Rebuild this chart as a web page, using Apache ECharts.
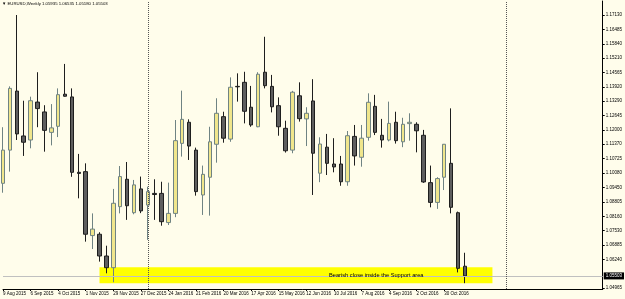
<!DOCTYPE html>
<html><head><meta charset="utf-8">
<script src="https://cdn.jsdelivr.net/npm/echarts@6/dist/echarts.min.js"></script>
<style>html,body{margin:0;padding:0;background:#FFFDEB}#c{width:625px;height:299px}</style>
</head><body><div id="c"></div>
<script>
const weeks = [
'9 Aug 2015','16 Aug 2015','23 Aug 2015','30 Aug 2015',
'6 Sep 2015','13 Sep 2015','20 Sep 2015','27 Sep 2015',
'4 Oct 2015','11 Oct 2015','18 Oct 2015','25 Oct 2015',
'1 Nov 2015','8 Nov 2015','15 Nov 2015','22 Nov 2015','29 Nov 2015',
'6 Dec 2015','13 Dec 2015','20 Dec 2015','27 Dec 2015',
'3 Jan 2016','10 Jan 2016','17 Jan 2016','24 Jan 2016','31 Jan 2016',
'7 Feb 2016','14 Feb 2016','21 Feb 2016','28 Feb 2016',
'6 Mar 2016','13 Mar 2016','20 Mar 2016','27 Mar 2016',
'3 Apr 2016','10 Apr 2016','17 Apr 2016','24 Apr 2016',
'1 May 2016','8 May 2016','15 May 2016','22 May 2016','29 May 2016',
'5 Jun 2016','12 Jun 2016','19 Jun 2016','26 Jun 2016',
'3 Jul 2016','10 Jul 2016','17 Jul 2016','24 Jul 2016','31 Jul 2016',
'7 Aug 2016','14 Aug 2016','21 Aug 2016','28 Aug 2016',
'4 Sep 2016','11 Sep 2016','18 Sep 2016','25 Sep 2016',
'2 Oct 2016','9 Oct 2016','16 Oct 2016','23 Oct 2016','30 Oct 2016',
'6 Nov 2016','13 Nov 2016','20 Nov 2016',
'27 Nov 2016','4 Dec 2016','11 Dec 2016','18 Dec 2016','25 Dec 2016',
'1 Jan 2017','8 Jan 2017','15 Jan 2017','22 Jan 2017','29 Jan 2017',
'5 Feb 2017','12 Feb 2017','19 Feb 2017','26 Feb 2017',
'5 Mar 2017','12 Mar 2017','19 Mar 2017','26 Mar 2017',
'2 Apr 2017','9 Apr 2017'
];
const opens = [
1.0963,1.1111,1.1374,1.1174,1.1156,1.1325,1.1281,1.1190,1.1217,1.1360,
1.1348,1.1012,1.1015,1.0730,1.0736,1.0639,1.0587,1.0859,1.0981,1.0832,
1.0938,1.0866,1.0918,1.0918,1.0788,1.0829,1.1141,1.1235,1.1111,1.0911,
1.0990,1.1137,1.1260,1.1160,1.1395,1.1413,1.1302,1.1215,1.1458,1.1395,
1.1309,1.1208,1.1111,1.1353,1.1250,1.1330,1.1008,1.1124,1.1049,1.1049,
1.0970,1.1172,1.1079,1.1168,1.1306,1.1177,1.1156,1.1235,1.1148,1.1229,
1.1226,1.1177,1.0966,1.0878,1.0990,1.1052,1.0832,1.05935];
const closes = [
1.1111,1.1386,1.1183,1.1146,1.1331,1.1296,1.1199,1.1210,1.1358,1.1351,
1.1012,1.1007,1.0736,1.0759,1.0639,1.0587,1.0874,1.0993,1.0863,1.0956,
1.0840,1.0926,1.0913,1.0792,1.0829,1.1153,1.1248,1.1129,1.0926,1.1003,
1.1148,1.1275,1.1164,1.1391,1.1393,1.1284,1.1223,1.1449,1.1398,1.1304,
1.1215,1.1108,1.1369,1.1251,1.1275,1.1097,1.1138,1.1052,1.1036,1.0970,
1.1175,1.1085,1.1164,1.1324,1.1190,1.1156,1.1230,1.1153,1.1226,1.1235,
1.1197,1.0969,1.0878,1.0984,1.1137,1.0856,1.0584,1.05503];
const lows = [
1.0921,1.1015,1.1156,1.1085,1.1119,1.1213,1.1104,1.1132,1.1169,1.1349,
1.0992,1.0896,1.0703,1.0670,1.0614,1.0562,1.0522,1.0829,1.0800,1.0825,
1.0830,1.0711,1.0800,1.0774,1.0777,1.0812,1.1082,1.1067,1.0908,1.0822,
1.0819,1.1055,1.1144,1.1148,1.1327,1.1230,1.1215,1.1213,1.1386,1.1279,
1.1175,1.1100,1.1097,1.1238,1.1129,1.0911,1.0968,1.1000,1.1012,1.0952,
1.0952,1.1042,1.1037,1.1153,1.1178,1.1122,1.1150,1.1140,1.1124,1.1153,
1.1101,1.0965,1.0856,1.0849,1.0933,1.0829,1.0566,1.05180];
const highs = [
1.1213,1.1395,1.1713,1.1331,1.1349,1.1458,1.1311,1.1316,1.1386,1.1495,
1.1386,1.1094,1.1052,1.0829,1.0745,1.0685,1.0938,1.1040,1.1058,1.0978,
1.0993,1.0948,1.0981,1.0970,1.0966,1.1245,1.1376,1.1248,1.1122,1.1042,
1.1215,1.1342,1.1282,1.1435,1.1453,1.1460,1.1397,1.1458,1.1616,1.1446,
1.1346,1.1242,1.1375,1.1413,1.1302,1.1427,1.1168,1.1183,1.1164,1.1085,
1.1196,1.1223,1.1223,1.1364,1.1357,1.1250,1.1327,1.1282,1.1255,1.1275,
1.1235,1.1201,1.1042,1.0990,1.1138,1.1297,1.0837,1.06535];
const priceTicks = [1.17130,1.16485,1.15840,1.15210,1.14565,1.13920,1.13290,1.12645,1.12000,1.11370,
1.10725,1.10080,1.09450,1.08805,1.08160,1.07530,1.06885,1.06240,1.04965];
const lastPrice = 1.05503;
const headerText = '\u25BC EURUSD,Weekly 1.05935 1.06535 1.05180 1.05503';
const supportLow = 1.05174, supportHigh = 1.05887;
const supportFrom = '15 Nov 2015', supportTo = '18 Dec 2016';
const yearSeparators = ['3 Jan 2016', '1 Jan 2017'];
const noteText = 'Bearish close inside the Support area';
const noteWeek = '3 Jul 2016', notePrice = 1.05512;

const FONT = '"Liberation Sans", Arial, sans-serif';
const candles = opens.map((o, i) => [o, closes[i], lows[i], highs[i]]);
const chart = echarts.init(document.getElementById('c'), null, {renderer: 'canvas'});
chart.setOption({
  animation: false,
  backgroundColor: '#FFFDEB',
  title: {text: headerText, left: 2, top: 2, padding: 0,
    textStyle: {fontSize: 4.3, fontWeight: 'normal', color: '#000', fontFamily: FONT}},
  grid: {left: 1.5, right: 18.5, top: 1, bottom: 10, containLabel: false},
  xAxis: {
    type: 'category', data: weeks, boundaryGap: false,
    axisLine: {show: true, lineStyle: {color: '#000', width: 1}},
    axisTick: {show: true, length: 2, interval: (i) => i % 4 === 0 && i < opens.length, lineStyle: {color: '#000'}},
    axisLabel: {interval: (i) => i % 4 === 0 && i < opens.length, fontSize: 4.5, color: '#000',
      fontFamily: FONT, align: 'left', margin: 2.5},
    splitLine: {show: false}
  },
  yAxis: {
    type: 'value', position: 'right', min: 1.04920, max: 1.17754, scale: true,
    axisLine: {show: true, lineStyle: {color: '#000', width: 1}},
    axisTick: {show: true, length: 2, customValues: priceTicks, lineStyle: {color: '#000'}},
    axisLabel: {customValues: priceTicks, formatter: (v) => v.toFixed(5), fontSize: 4.5,
      color: '#000', fontFamily: FONT, margin: 3},
    splitLine: {show: false}
  },
  series: [
    {
      type: 'line', data: [], z: 1, silent: true,
      markArea: {silent: true, itemStyle: {color: '#FFFF00'},
        data: [[{xAxis: supportFrom, yAxis: supportHigh}, {xAxis: supportTo, yAxis: supportLow}]]}
    },
    {
      type: 'line', data: [], z: 2, silent: true,
      markLine: {
        silent: true, symbol: 'none', animation: false, precision: 5,
        data: [
          [{coord: [weeks[0], lastPrice]}, {coord: [weeks[weeks.length - 1], lastPrice],
            lineStyle: {color: '#C0C0C0', type: 'solid', width: 1},
            label: {show: true, position: 'end', formatter: lastPrice.toFixed(5), color: '#fff',
              backgroundColor: '#000', fontSize: 4.5, fontFamily: FONT, padding: [1, 2, 1, 2], distance: 1}}]
        ],
        lineStyle: {color: '#C0C0C0', type: 'solid', width: 1}
      }
    },
    {
      type: 'candlestick', data: candles, z: 3, barWidth: 4, clip: false,
      itemStyle: {color: '#F0E68C', color0: '#5E5E5E', borderColor: '#6F8383', borderColor0: '#1E1E1E', borderWidth: 1}
    },
    {
      type: 'line', data: [], z: 4, silent: true,
      markLine: {
        silent: true, symbol: 'none', animation: false, label: {show: false},
        lineStyle: {color: '#555', type: [1, 1], width: 1},
        data: [{xAxis: yearSeparators[0]}, {xAxis: yearSeparators[1]}]
      },
      markPoint: {silent: true, symbol: 'circle', symbolSize: 0,
        data: [{coord: [noteWeek, notePrice],
          label: {show: true, position: 'right', distance: 2, formatter: noteText, color: '#000',
            fontSize: 5.7, fontFamily: FONT}}]}
    }
  ]
});
</script></body></html>
